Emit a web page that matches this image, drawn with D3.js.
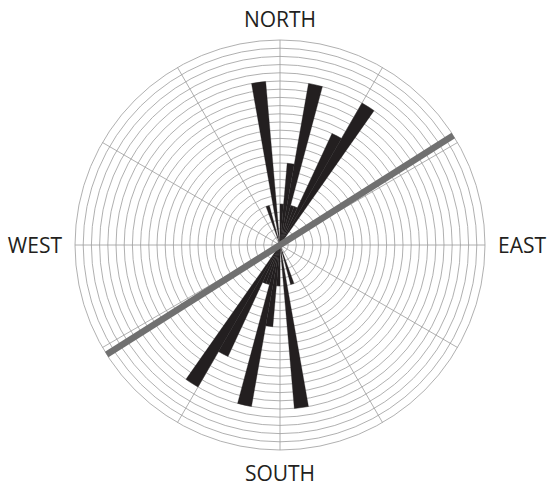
<!DOCTYPE html>
<html>
<head>
<meta charset="utf-8">
<script src="https://cdn.jsdelivr.net/npm/d3@7"></script>
<style>
  html, body { margin: 0; padding: 0; background: #fff; }
  svg { display: block; }
  text { font-family: "Open Sans", "Liberation Sans", sans-serif; fill: #231f20; }
</style>
</head>
<body>
<svg id="chart" width="549" height="486"></svg>
<script>
// Bin start bearings (degrees clockwise from north), each bin 5 degrees wide
const binWidth = 5;
const northBins = [340, 350, 0, 5, 10, 15, 20, 25, 30];
const northCounts = [5, 20, 5, 10, 20, 5, 5, 15, 20];
const southBins = [160, 170, 180, 185, 190, 195, 200, 205, 210];
const southCounts = [5, 20, 5, 10, 20, 5, 5, 15, 20];
// Mean direction line (bearing, degrees)
const meanBearing = 57.7;
// Ring values and spoke angles
const ringValues = d3.range(1, 26);
const spokeAngles = d3.range(0, 360, 30);
const directionLabels = ["NORTH", "EAST", "SOUTH", "WEST"];
const directionAngles = [0, 90, 180, 270];

const cx = 280, cy = 245, R = 205;
const svg = d3.select("#chart");
const g = svg.append("g").attr("transform", `translate(${cx},${cy})`);

const r = d3.scaleLinear().domain([0, 25]).range([0, R]);
const rad = d => d * Math.PI / 180;

// Spokes
g.append("g").selectAll("line").data(spokeAngles).join("line")
  .attr("x1", 0).attr("y1", 0)
  .attr("x2", d => r(25) * Math.sin(rad(d)))
  .attr("y2", d => -r(25) * Math.cos(rad(d)))
  .attr("stroke", "#9c9c9c").attr("stroke-width", 0.8);

// Rings
g.append("g").selectAll("circle").data(ringValues).join("circle")
  .attr("r", d => r(d))
  .attr("fill", "none")
  .attr("stroke", "#9c9c9c")
  .attr("stroke-width", 0.8);

// Petals
const petals = northBins.map((b, i) => ({start: b, value: northCounts[i]}))
  .concat(southBins.map((b, i) => ({start: b, value: southCounts[i]})));
const arc = d3.arc()
  .innerRadius(0)
  .outerRadius(d => r(d.value))
  .startAngle(d => rad(d.start))
  .endAngle(d => rad(d.start + binWidth));
g.append("g").selectAll("path").data(petals).join("path")
  .attr("d", arc)
  .attr("fill", "#231f20")
  .attr("stroke", "#231f20")
  .attr("stroke-width", 0.3);

// Mean direction line
g.append("line")
  .attr("x1", -r(25) * Math.sin(rad(meanBearing)))
  .attr("y1", r(25) * Math.cos(rad(meanBearing)))
  .attr("x2", r(25) * Math.sin(rad(meanBearing)))
  .attr("y2", -r(25) * Math.cos(rad(meanBearing)))
  .attr("stroke", "#707070")
  .attr("stroke-width", 6.5);

// Direction labels
const gap = 13;
g.append("g").selectAll("text").data(directionLabels).join("text")
  .text(d => d)
  .attr("font-size", 21)
  .attr("x", (d, i) => {
    const a = directionAngles[i];
    if (a === 90) return R + gap;
    if (a === 270) return -R - gap;
    return 0;
  })
  .attr("y", (d, i) => {
    const a = directionAngles[i];
    if (a === 0) return -R - gap;
    if (a === 180) return R + gap;
    return 0;
  })
  .attr("text-anchor", (d, i) => directionAngles[i] === 90 ? "start" : directionAngles[i] === 270 ? "end" : "middle")
  .attr("dominant-baseline", (d, i) => directionAngles[i] === 0 ? "auto" : directionAngles[i] === 180 ? "hanging" : "central");
</script>
</body>
</html>
